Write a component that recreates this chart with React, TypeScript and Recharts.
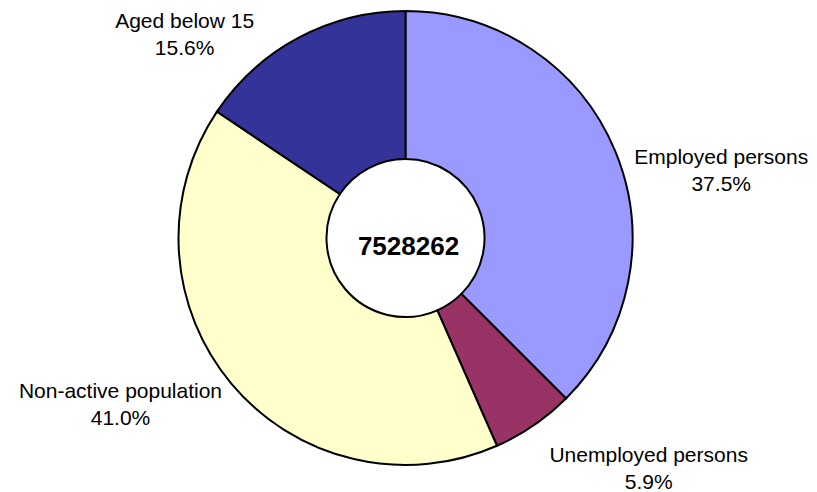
import React from "react"
import { PieChart, Pie, Cell, Label } from "recharts"

const categories = ["Employed persons", "Unemployed persons", "Non-active population", "Aged below 15"]
const shares = [37.5, 5.9, 41.0, 15.6]
const colors = ["#9999FF", "#993366", "#FFFFCC", "#333399"]
const totalLabel = "7528262"

const data = categories.map((name, i) => ({ name, value: shares[i] }))

// offset of each label block from the slice's outer edge midpoint (Excel-style placement)
const labelShift: Array<[number, number]> = [
  [106, 19],
  [115, 43],
  [-111, 20],
  [-114, -4],
]

const RAD = Math.PI / 180
const FONT = "'Liberation Sans', Arial, sans-serif"

const SliceLabel = (props: any) => {
  const { cx, cy, midAngle, outerRadius, index } = props
  const px = cx + outerRadius * Math.cos(-midAngle * RAD)
  const py = cy + outerRadius * Math.sin(-midAngle * RAD)
  const [dx, dy] = labelShift[index]
  const x = px + dx
  const y = py + dy
  return (
    <text x={x} y={y - 6} textAnchor="middle" fill="#000" fontSize={21} fontFamily={FONT}>
      <tspan x={x} y={y - 6}>{categories[index]}</tspan>
      <tspan x={x} y={y + 21}>{shares[index].toFixed(1)}%</tspan>
    </text>
  )
}

export default function App() {
  return (
    <div style={{ position: "absolute", left: 0, top: 0, width: 817, height: 492, background: "#fff" }}>
      <PieChart width={817} height={492} margin={{ top: 0, right: 0, bottom: 0, left: 0 }}>
        <Pie
          data={data}
          dataKey="value"
          nameKey="name"
          cx={405.5}
          cy={238}
          innerRadius={79}
          outerRadius={227}
          startAngle={90}
          endAngle={-270}
          stroke="#000"
          strokeWidth={2}
          label={SliceLabel}
          labelLine={false}
          isAnimationActive={false}
        >
          {data.map((d, i) => (
            <Cell key={d.name} fill={colors[i]} />
          ))}
          <Label
            value={totalLabel}
            position="center"
            fill="#000"
            fontSize={26}
            fontWeight="bold"
            fontFamily={FONT}
          />
        </Pie>
      </PieChart>
    </div>
  )
}
